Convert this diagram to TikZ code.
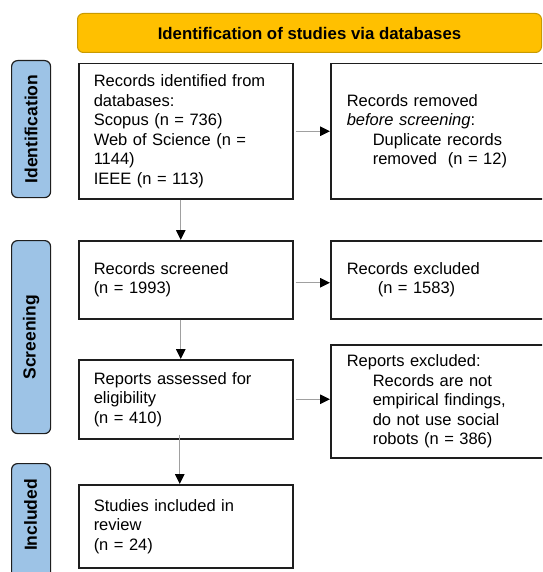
\documentclass[tikz,border=0pt]{standalone}
\usepackage{fontspec}
\setmainfont{Liberation Sans}
\usetikzlibrary{arrows.meta}
\definecolor{gold}{HTML}{FFC000}
\definecolor{goldedge}{HTML}{C99A00}
\definecolor{lblue}{HTML}{9DC3E6}
\definecolor{edgec}{HTML}{1E1E1E}
\definecolor{arrowgray}{HTML}{A0A0A0}
\begin{document}
\begin{tikzpicture}[x=1pt,y=-1pt,
  every node/.style={font=\fontsize{16.5}{19.5}\selectfont},
  flowbox/.style={draw=edgec, line width=1.5pt, fill=white, anchor=north west,
    align=left, inner ysep=0pt},
  phasebox/.style={draw=edgec, line width=1.2pt, fill=lblue, rounded corners=6pt},
  phasetext/.style={rotate=90, font=\bfseries\fontsize{17.5}{20}\selectfont},
  arr/.style={draw=arrowgray, line width=0.9pt, -{Triangle[length=10pt,width=9.5pt,color=black]}}
]
\useasboundingbox (0,0) rectangle (542,572);
\clip (0,0) rectangle (542,572);

% title bar
\node[draw=goldedge, line width=1pt, fill=gold, rounded corners=6pt,
  minimum width=464pt, minimum height=39pt, anchor=north west,
  font=\bfseries\fontsize{16.8}{19.5}\selectfont] (title) at (77,13)
  {Identification of studies via databases};

% phase labels
\node[phasebox, minimum width=39pt, minimum height=137pt, anchor=north west] (pid) at (11,60) {};
\node[phasetext] (pidt) at (pid.center) {Identification};
\node[phasebox, minimum width=39pt, minimum height=193pt, anchor=north west] (psc) at (11,240) {};
\node[phasetext] (psct) at (psc.center) {Screening};
\node[phasebox, minimum width=39pt, minimum height=150pt, anchor=north west] (pin) at (11,463) {};
\node[phasetext] (pint) at (30.5,515) {Included};

% left column
\node[flowbox, minimum width=214pt, minimum height=135pt, text width=184pt, inner xsep=15pt] (b1) at (78,63)
  {Records identified from\\databases:\\Scopus (n = 736)\\Web of Science (n =\\1144)\\IEEE (n = 113)};
\node[flowbox, minimum width=214pt, minimum height=78pt, text width=184pt, inner xsep=15pt] (b2) at (78,240)
  {Records screened\\(n = 1993)};
\node[flowbox, minimum width=214pt, minimum height=79pt, text width=184pt, inner xsep=15pt] (b3) at (78,359)
  {Reports assessed for\\eligibility\\(n = 410)};
\node[flowbox, minimum width=214pt, minimum height=83pt, text width=184pt, inner xsep=15pt] (b4) at (78,484)
  {Studies included in\\review\\(n = 24)};

% right column
\node[flowbox, minimum width=230pt, minimum height=135pt, text width=198pt, inner xsep=16pt] (r1) at (330,63)
  {Records removed\\\textit{before screening}:\\\hspace*{26pt}Duplicate records\\\hspace*{26pt}removed\ \ (n = 12)};
\node[flowbox, minimum width=230pt, minimum height=78pt, text width=198pt, inner xsep=16pt] (r2) at (330,240)
  {Records excluded\\\hspace*{31pt}(n = 1583)};
\node[flowbox, minimum width=230pt, minimum height=113pt, text width=198pt, inner xsep=16pt] (r3) at (330,344)
  {Reports excluded:\\\hspace*{26pt}Records are not\\\hspace*{26pt}empirical findings,\\\hspace*{26pt}do not use social\\\hspace*{26pt}robots (n = 386)};

% arrows
\draw[arr] ([xshift=-5pt]b1.south) -- ([xshift=-5pt]b2.north);
\draw[arr] ([xshift=-5pt]b2.south) -- ([xshift=-5pt]b3.north);
\draw[arr] ([xshift=-6pt,yshift=5pt]b3.south) -- ([xshift=-6pt]b4.north);
\draw[arr] ([xshift=2pt]b1.east) -- (r1.west);
\draw[arr] ([xshift=2pt,yshift=-3pt]b2.east) -- ([yshift=-3pt]r2.west);
\draw[arr] ([xshift=2pt]b3.east) -- (b3.east -| r3.west);
\end{tikzpicture}
\end{document}
